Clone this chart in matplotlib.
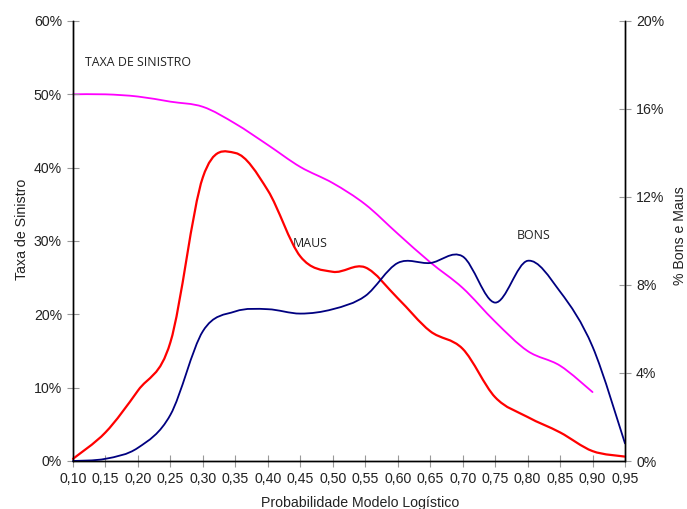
import matplotlib
matplotlib.use("Agg")
import matplotlib.pyplot as plt
from matplotlib.path import Path
from matplotlib.patches import PathPatch
import numpy as np

prob = [0.10, 0.15, 0.20, 0.25, 0.30, 0.35, 0.40, 0.45, 0.50, 0.55,
        0.60, 0.65, 0.70, 0.75, 0.80, 0.85, 0.90, 0.95]
taxa_sinistro = [50.0, 50.0, 49.7, 49.0, 48.3, 46.0, 43.1, 40.1, 37.9, 35.0,
                 31.0, 27.1, 23.6, 19.0, 15.0, 13.0, 9.4]
maus = [0.1, 1.3, 3.2, 5.4, 12.9, 14.0, 12.3, 9.3, 8.6, 8.8,
        7.4, 5.9, 5.1, 2.9, 2.0, 1.3, 0.45, 0.2]
bons = [0.0, 0.1, 0.6, 2.1, 5.9, 6.8, 6.9, 6.7, 6.9, 7.5,
        9.0, 9.0, 9.3, 7.2, 9.1, 7.7, 5.2, 0.8]
xtick_labels = ["0,10", "0,15", "0,20", "0,25", "0,30", "0,35", "0,40", "0,45", "0,50",
                "0,55", "0,60", "0,65", "0,70", "0,75", "0,80", "0,85", "0,90", "0,95"]
left_ticks = [0, 10, 20, 30, 40, 50, 60]
right_ticks = [0, 4, 8, 12, 16, 20]


def smooth_patch(ax, xs, ys, color, lw):
    pts = np.column_stack([xs, ys]).astype(float)
    n = len(pts)
    verts = [pts[0]]
    codes = [Path.MOVETO]
    for i in range(n - 1):
        p0 = pts[i - 1] if i > 0 else pts[i]
        p1 = pts[i]
        p2 = pts[i + 1]
        p3 = pts[i + 2] if i + 2 < n else pts[i + 1]
        c1 = p1 + (p2 - p0) / 6.0
        c2 = p2 - (p3 - p1) / 6.0
        verts += [c1, c2, p2]
        codes += [Path.CURVE4] * 3
    patch = PathPatch(Path(verts, codes), fill=False, edgecolor=color, lw=lw,
                      capstyle="round", joinstyle="round", clip_on=False)
    ax.add_patch(patch)


plt.rcParams['font.family'] = ['Liberation Sans', 'DejaVu Sans']
W, H = 687, 509
fig = plt.figure(figsize=(W/100, H/100), dpi=100)
ax = fig.add_axes([73/W, 1-461/H, (625-73)/W, (461-21)/H])
ax2 = ax.twinx()

ax.set_xlim(0.10, 0.95)
ax.set_ylim(0, 60)
ax2.set_ylim(0, 20)

smooth_patch(ax, prob[:len(taxa_sinistro)], taxa_sinistro, "#FF00FF", 1.3)
smooth_patch(ax2, prob, maus, "#FF0000", 1.6)
smooth_patch(ax2, prob, bons, "#000080", 1.3)

ax.set_xticks(prob)
ax.set_xticklabels(xtick_labels)
ax.set_yticks(left_ticks)
ax.set_yticklabels([f"{v}%" for v in left_ticks])
ax2.set_yticks(right_ticks)
ax2.set_yticklabels([f"{v}%" for v in right_ticks])

fs = 10.2
for a in (ax, ax2):
    a.spines['top'].set_visible(False)
    for s in a.spines.values():
        s.set_linewidth(1.0)
        s.set_color("black")
    a.tick_params(direction="inout", length=8, width=0.8, color="#999999",
                  labelsize=fs, labelcolor="#222222")
ax.tick_params(axis="x", pad=4)
ax.tick_params(axis="y", pad=4)
ax2.tick_params(axis="y", pad=4)

fig.text(360/W, 1-503/H, "Probabilidade Modelo Logístico", ha="center", va="center",
         fontsize=fs, color="#222222")
fig.text(22/W, 1-229/H, "Taxa de Sinistro", rotation=90, ha="center", va="center",
         fontsize=fs, color="#222222")
fig.text(680/W, 1-236/H, "% Bons e Maus", rotation=90, ha="center", va="center",
         fontsize=fs, color="#222222")

ax.text(0.118, 54.4, "TAXA DE SINISTRO", fontsize=8.9, family="Open Sans",
        ha="left", va="center", color="#222222")
ax.text(0.438, 29.7, "MAUS", fontsize=8.9, family="Open Sans",
        ha="left", va="center", color="#222222")
ax.text(0.783, 30.7, "BONS", fontsize=8.9, family="Open Sans",
        ha="left", va="center", color="#222222")

fig.savefig("out.png", dpi=100)
